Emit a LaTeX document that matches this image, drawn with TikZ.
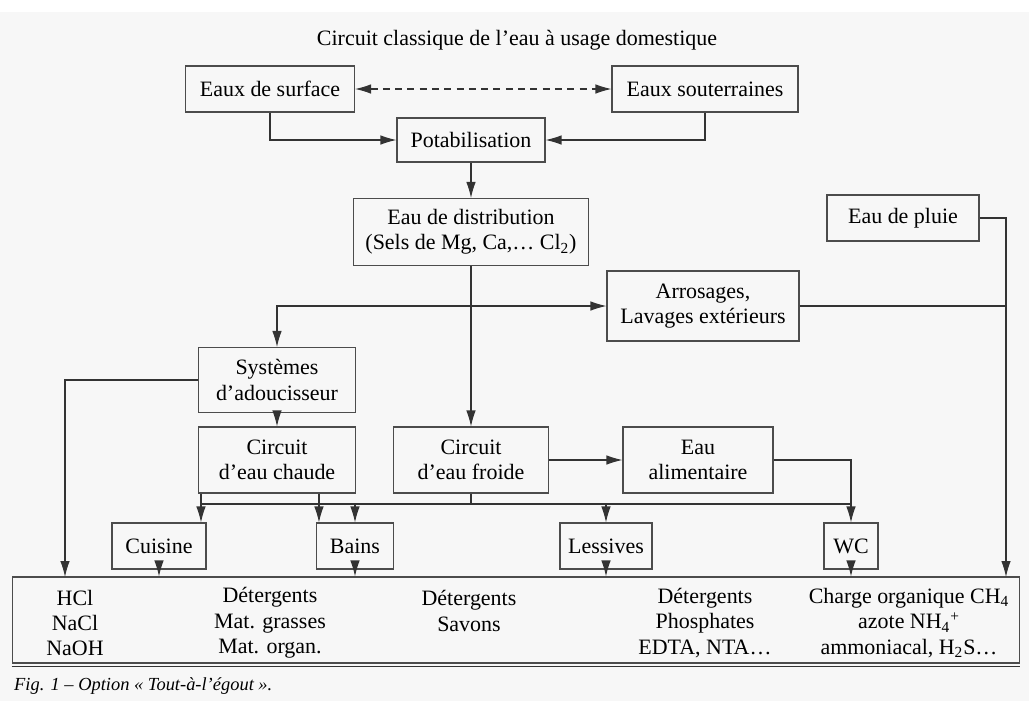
\documentclass[tikz,border=0pt]{standalone}
\usepackage{fontspec}
\setmainfont{Liberation Serif}
\usetikzlibrary{arrows.meta,calc}

\begin{document}
\begin{tikzpicture}[x=0.02cm, y=-0.02cm,
		font=\fontsize{12.5}{14.5}\selectfont,
		>={Latex[length=3.2mm,width=1.9mm]},
		box/.style={draw=black!70, rectangle, line width=0.6pt, align=center, inner sep=0pt},
		link/.style={draw=black!80, line width=0.6pt}]
		% Page
		\useasboundingbox (0,0) rectangle (1029,701);
		\fill[gray!6] (0,12) rectangle (1029,701);
		
		% Title
		\node (title) at (517,40) {Circuit classique de l’eau à usage domestique};
		
		% Sources
		\node[box, minimum width=3.38cm, minimum height=0.92cm] (surf) at (270,89) {Eaux de surface};
		\node[box, minimum width=3.72cm, minimum height=0.92cm] (sout) at (705,89) {Eaux souterraines};
		\node[box, minimum width=2.96cm, minimum height=0.88cm] (potab) at (471,140) {Potabilisation};
		\node[box, minimum width=4.70cm, minimum height=1.34cm] (distr) at (471,232) {Eau de distribution\\(Sels de Mg, Ca,… Cl\textsubscript{2})};
		\node[box, minimum width=3.04cm, minimum height=0.92cm] (pluie) at (903,218) {Eau de pluie};
		\node[box, minimum width=3.84cm, minimum height=1.40cm] (arros) at (703,306) {Arrosages,\\Lavages extérieurs};
		
		% Circuits
		\node[box, minimum width=3.14cm, minimum height=1.30cm] (syst) at (277,380) {Systèmes\\d’adoucisseur};
		\node[box, minimum width=3.14cm, minimum height=1.32cm] (chaude) at (277,460) {Circuit\\d’eau chaude};
		\node[box, minimum width=3.10cm, minimum height=1.32cm] (froide) at (471,460) {Circuit\\d’eau froide};
		\node[box, minimum width=3.00cm, minimum height=1.32cm] (alim) at (698,460) {Eau\\alimentaire};
		
		% Uses
		\node[box, minimum width=1.88cm, minimum height=0.92cm] (cuisine) at (159,546) {Cuisine};
		\node[box, minimum width=1.54cm, minimum height=0.92cm] (bains) at (355,546) {Bains};
		\node[box, minimum width=1.84cm, minimum height=0.92cm] (lessives) at (606,546) {Lessives};
		\node[box, minimum width=1.08cm, minimum height=0.92cm] (wc) at (851,546) {WC};
		
		% Sewer
		\node[box, minimum width=20.16cm, minimum height=1.72cm] (sink) at (516,620) {};
		\draw[link] ($(sink.south west)+(0,3)$) -- ($(sink.south east)+(0,3)$);
		\node[align=center] (acids) at (75,623) {HCl\\NaCl\\NaOH};
		\node[align=center] (kitchen) at (270,623) {Détergents\\Mat. grasses\\Mat. organ.};
		\node[align=center] (bath) at (469,611) {Détergents\\Savons};
		\node[align=center] (wash) at (705,623) {Détergents\\Phosphates\\EDTA, NTA…};
		\node[align=center] (toilet) at (909,623) {Charge organique CH\textsubscript{4}\\azote NH\textsubscript{4}\textsuperscript{+}\\ammoniacal, H\textsubscript{2}S…};
		
		% Helper points
		\coordinate (split) at (471,306);
		\coordinate (rail) at (0,504);
		\coordinate (dropL) at (65,577);
		\coordinate (dropR) at (1006,577);
		\coordinate (hotL) at ($(chaude.south west)+(3,0)$);
		\coordinate (hotR) at ($(bains.north west)+(3,0)$);
		
		% Connections
		\draw[link, <->, dash pattern=on 4pt off 3pt] (surf) -- (sout);
		\draw[link, ->] (surf.south) |- (potab.west);
		\draw[link, ->] (sout.south) |- (potab.east);
		\draw[link, ->] (potab) -- (distr);
		\draw[link] (distr) -- (split);
		\draw[link, ->] (split) -| (syst);
		\draw[link, ->] (split) -- (arros);
		\draw[link, ->] (split) -- (froide);
		\draw[link, ->] (syst) -- (chaude);
		\draw[link, ->] (syst.west) -| (dropL);
		\draw[link, ->] (pluie.east) -| (dropR);
		\draw[link] (arros.east) -- (arros.east -| dropR);
		
		\draw[link, ->] (hotL) -- (hotL |- cuisine.north);
		\draw[link, ->] (hotR |- chaude.south) -- (hotR);
		\draw[link] (froide.south) -- (froide.south |- rail);
		\draw[link] (hotL |- rail) -- (wc.north |- rail);
		\draw[link, ->] (bains.north |- rail) -- (bains.north);
		\draw[link, ->] (lessives.north |- rail) -- (lessives.north);
		\draw[link, ->] (froide) -- (alim);
		\draw[link, ->] (alim.east) -| (wc.north);
		
		\foreach \n in {cuisine, bains, lessives, wc}
			\draw[link, ->] (\n.south) -- (\n.south |- sink.north);
		
		% Labels
		\node[anchor=west, font=\fontsize{10.5}{13}\selectfont\itshape] (caption) at (8,686) {Fig. 1 – Option «~Tout-à-l’égout~».};
	\end{tikzpicture}
\end{document}
